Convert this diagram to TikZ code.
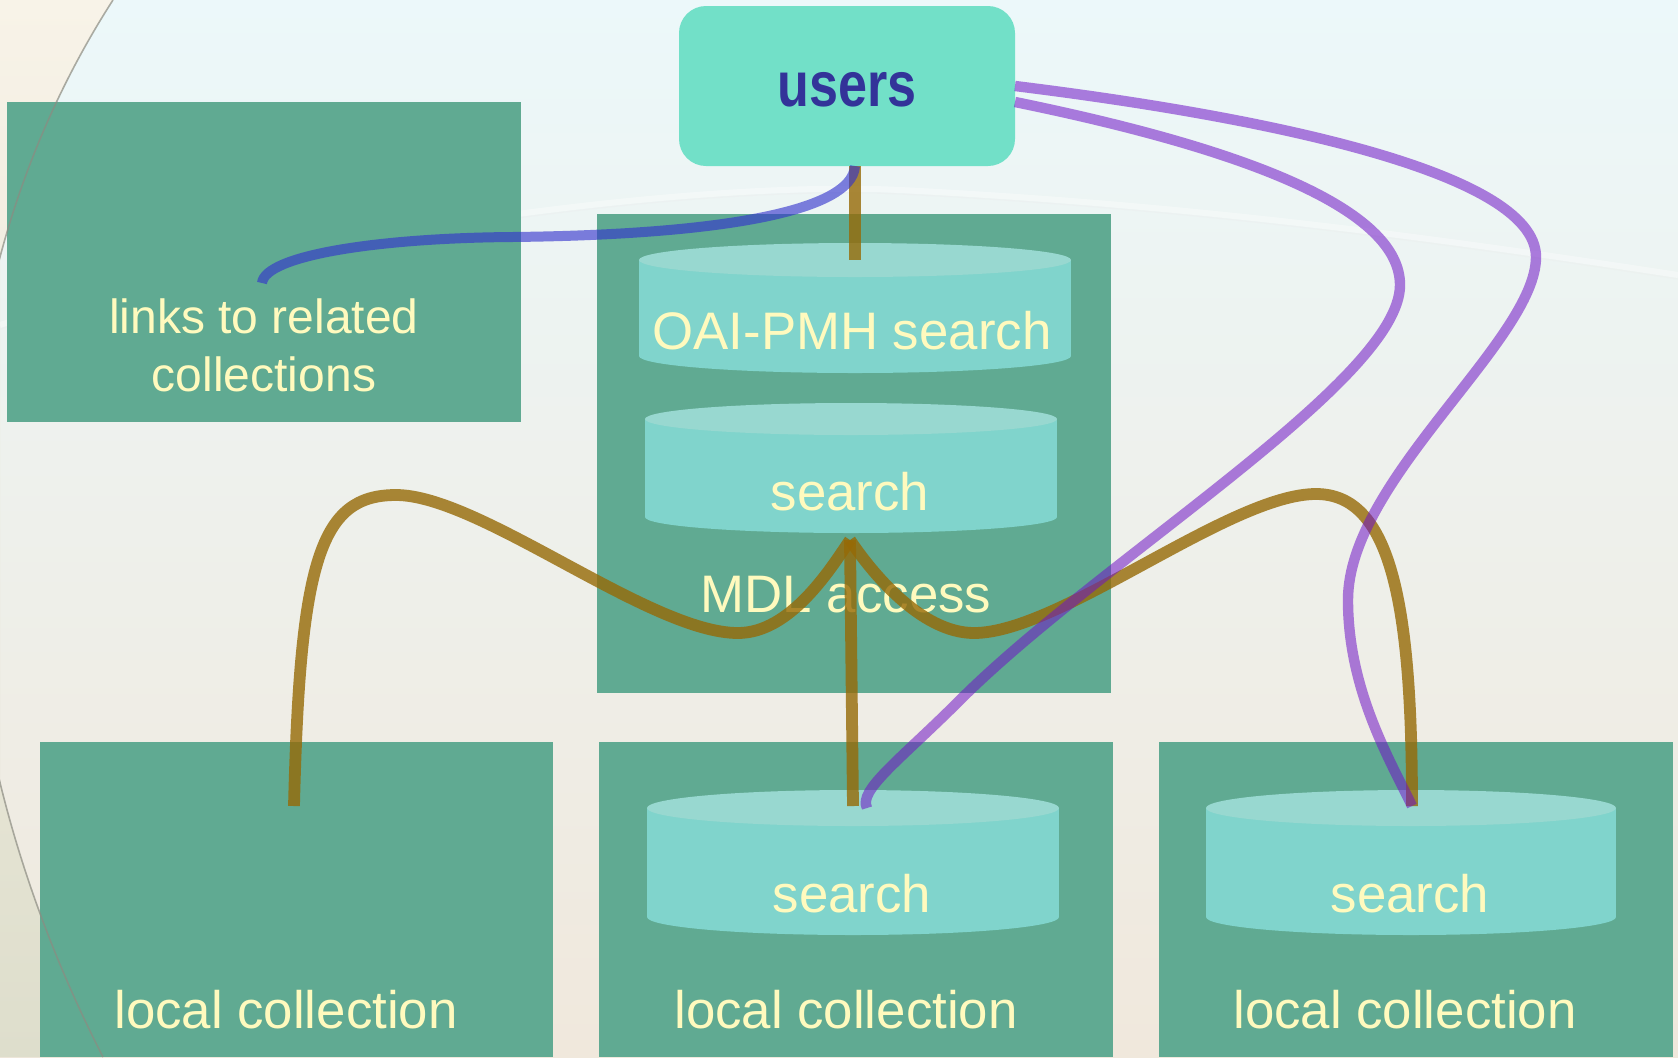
\documentclass[tikz,border=0pt]{standalone}
\usepackage{fontspec}
\setmainfont{Liberation Sans}
\usetikzlibrary{calc}
\definecolor{boxgreen}{RGB}{96,170,146}
\definecolor{usersfill}{RGB}{114,224,200}
\definecolor{usersink}{RGB}{51,51,153}
\definecolor{ink}{RGB}{255,250,190}
\definecolor{cylside}{RGB}{128,212,204}
\definecolor{cyltop}{RGB}{152,216,208}
\definecolor{brownline}{RGB}{150,106,6}
\definecolor{purpleline}{RGB}{111,20,198}
\definecolor{blueline}{RGB}{50,50,205}
\definecolor{bgtop}{RGB}{236,248,250}
\definecolor{bgmid}{RGB}{248,251,248}
\definecolor{bgbot}{RGB}{240,232,220}
\definecolor{leftbgtop}{RGB}{248,243,232}
\definecolor{leftbgbot}{RGB}{222,222,204}
\definecolor{arcgray}{RGB}{140,140,130}
\begin{document}
\begin{tikzpicture}[x=0.5pt,y=-0.5pt,
  gbox/.style={fill=boxgreen, draw=none, inner sep=0pt, outer sep=0pt},
  lbl/.style={text=ink, font=\fontsize{26.4pt}{31pt}\selectfont, inner sep=0pt, anchor=base},
  smalllbl/.style={text=ink, font=\fontsize{24pt}{29pt}\selectfont, inner sep=0pt, anchor=base},
  brownw/.style={draw=brownline, draw opacity=0.8, line width=5.9pt},
  purplew/.style={draw=purpleline, draw opacity=0.55, line width=5.2pt},
  bluew/.style={draw=blueline, draw opacity=0.62, line width=5pt}]
\useasboundingbox (0,0) rectangle (1678,1057);
% background
\shade[top color=bgtop, middle color=bgmid, bottom color=bgbot] (0,0) rectangle (1678,1057);
\shade[top color=leftbgtop, bottom color=leftbgbot] (0,0) -- (113,0) .. controls (-80,300) and (-80,700) .. (103,1057) -- (0,1057) -- cycle;
\draw[white, opacity=0.35, line width=3pt] (0,325) .. controls (300,230) and (700,180) .. (900,190) .. controls (1200,205) and (1450,240) .. (1678,275);
\draw[black!8, opacity=0.3, line width=0.6pt] (0,329) .. controls (300,234) and (700,184) .. (900,194) .. controls (1200,209) and (1450,244) .. (1678,279);

% boxes
\node[gbox, minimum width=257pt, minimum height=160pt] (links) at (264,262) {};
\node[gbox, minimum width=257pt, minimum height=239.5pt] (mdl) at (854,453.5) {};
\node[gbox, minimum width=256.5pt, minimum height=157.5pt] (lc1) at (296.5,899.5) {};
\node[gbox, minimum width=257pt, minimum height=157.5pt] (lc2) at (856,899.5) {};
\node[gbox, minimum width=257pt, minimum height=157.5pt] (lc3) at (1416,899.5) {};

% thin background arc, seen through the boxes
\draw[arcgray, draw opacity=0.7, line width=0.8pt] (113,0) .. controls (-80,300) and (-80,700) .. (103,1057);

% cylinders
\fill[cylside] (639,260) rectangle (1071,356);
\fill[cylside] (855,356) ellipse [x radius=108pt, y radius=8.5pt];
\fill[cyltop] (855,260) ellipse [x radius=108pt, y radius=8.5pt];

\fill[cylside] (645,419) rectangle (1057,517);
\fill[cylside] (851,517) ellipse [x radius=103pt, y radius=8pt];
\fill[cyltop] (851,419) ellipse [x radius=103pt, y radius=8pt];

\fill[cylside] (647,808) rectangle (1059,917);
\fill[cylside] (853,917) ellipse [x radius=103pt, y radius=9pt];
\fill[cyltop] (853,808) ellipse [x radius=103pt, y radius=9pt];

\fill[cylside] (1206,808) rectangle (1616,917);
\fill[cylside] (1411,917) ellipse [x radius=102.5pt, y radius=9pt];
\fill[cyltop] (1411,808) ellipse [x radius=102.5pt, y radius=9pt];

% texts
\node[smalllbl] (links1) at (264,333) {links to related};
\node[smalllbl] (links2) at (264,391) {collections};
\node[lbl] (oailbl) at (852,349) {OAI-PMH search};
\node[lbl] (mslbl) at (850,510) {search};
\node[lbl] (mdllbl) at (846,612) {MDL access};
\node[lbl] (s2lbl) at (852,912) {search};
\node[lbl] (s3lbl) at (1410,912) {search};
\node[lbl] (lc1lbl) at (286,1028) {local collection};
\node[lbl] (lc2lbl) at (846,1028) {local collection};
\node[lbl] (lc3lbl) at (1405,1028) {local collection};

% users
\node[fill=usersfill, rounded corners=13.5pt, minimum width=168pt, minimum height=80pt,
      inner sep=0pt, outer sep=0pt, text=usersink,
      font=\bfseries\fontsize{28pt}{33pt}\selectfont] (users) at (847,86) {\raisebox{-10.2pt}[0pt][0pt]{\scalebox{0.93}[1.13]{users}}};

% connector ends
\coordinate (oaitop) at (855,260);
\coordinate (peak) at (850,540);
\coordinate (s2top) at (853,806);
\coordinate (s3top) at (1412,806);
\coordinate (lc1pt) at (294,806);
\coordinate (linkspt) at (262,283);

% connectors
\draw[brownw] (users.south -| oaitop) -- (oaitop);
\draw[bluew] (users.south -| oaitop) .. controls (852,215) and (700,235) .. (512,237)
   .. controls (380,238) and (265,255) .. (linkspt);
\draw[brownw] (lc1pt) .. controls (300,560) and (320,495) .. (396,495)
   .. controls (480,495) and (650,633) .. (738,633)
   .. controls (790,633) and (830,570) .. (peak);
\draw[brownw] (peak) .. controls (870,570) and (920,633) .. (974,633)
   .. controls (1060,633) and (1230,494) .. (1316,494)
   .. controls (1390,494) and (1412,600) .. (s3top);
\draw[brownw] (peak) -- (s2top);
\draw[purplew] (users.east) .. controls (1250,115) and (1536,170) .. (1536,257)
   .. controls (1536,340) and (1348,480) .. (1348,600)
   .. controls (1348,690) and (1390,760) .. (s3top);
\draw[purplew] ($(users.east)+(0,16)$) .. controls (1250,150) and (1400,210) .. (1400,285)
   .. controls (1400,380) and (1100,560) .. (960,700)
   .. controls (900,760) and (858,790) .. ($(s2top)+(14,2)$);
\end{tikzpicture}
\end{document}
